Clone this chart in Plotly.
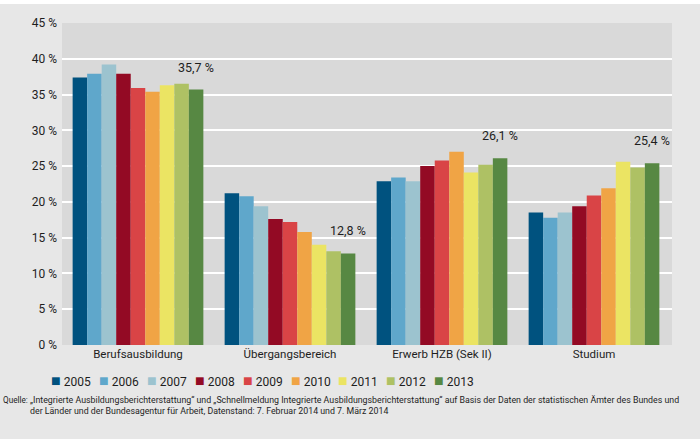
import plotly.graph_objects as go

categories = ["Berufsausbildung", "Übergangsbereich", "Erwerb HZB (Sek II)", "Studium"]
years = ["2005", "2006", "2007", "2008", "2009", "2010", "2011", "2012", "2013"]
colors = ["#00527f", "#5fa7cb", "#9cc3cf", "#930a24", "#d94446", "#f0a445", "#ebe463", "#aec164", "#578843"]

v2005 = [37.4, 21.2, 22.9, 18.5]
v2006 = [37.9, 20.8, 23.4, 17.8]
v2007 = [39.2, 19.4, 22.9, 18.5]
v2008 = [37.9, 17.6, 25.0, 19.4]
v2009 = [35.9, 17.2, 25.8, 20.9]
v2010 = [35.4, 15.8, 27.0, 21.9]
v2011 = [36.3, 14.0, 24.1, 25.6]
v2012 = [36.5, 13.1, 25.2, 24.8]
v2013 = [35.7, 12.8, 26.1, 25.4]
series = [v2005, v2006, v2007, v2008, v2009, v2010, v2011, v2012, v2013]

label_texts = ["35,7 %", "12,8 %", "26,1 %", "25,4 %"]
ytick_vals = [0, 5, 10, 15, 20, 25, 30, 35, 40, 45]
ytick_text = ["0 %", "5 %", "10 %", "15 %", "20 %", "25 %", "30 %", "35 %", "40 %", "45 %"]

source_label = "Quelle:"
source_text = ("„Integrierte Ausbildungsberichterstattung“ und „Schnellmeldung Integrierte "
               "Ausbildungsberichterstattung“ auf Basis der Daten der statistischen Ämter des Bundes und<br>"
               "der Länder und der Bundesagentur für Arbeit, Datenstand: 7. Februar 2014 und 7. März 2014")

FONT = "Roboto, Liberation Sans, sans-serif"
TXT = "#1e1e1e"

PLOT_L, PLOT_R, PLOT_T, PLOT_B = 62, 672, 23, 345
PW, PH = PLOT_R - PLOT_L, PLOT_B - PLOT_T


def px_x(p):
    return (p - PLOT_L) / PW


def px_y(p):
    return (PLOT_B - p) / PH


fig = go.Figure()
for y, vals, c in zip(years, series, colors):
    fig.add_trace(go.Bar(x=categories, y=vals, name=y, marker=dict(color=c, line=dict(width=0)),
                         showlegend=False))

for cat, val, txt in zip(categories, v2013, label_texts):
    fig.add_annotation(x=cat, y=val, text=txt, xref="x", yref="y", showarrow=False,
                       xshift=58, yshift=13, yanchor="bottom",
                       font=dict(size=12.5, color=TXT, family=FONT))

# legend built as text entries (square glyph + year)
for i, (yr, c) in enumerate(zip(years, colors)):
    fig.add_annotation(x=px_x(49 + i * 47.9), y=px_y(380), xref="paper", yref="paper",
                       xanchor="left", yanchor="middle", showarrow=False,
                       text=f"<span style='color:{c};font-size:16px'>■</span> {yr}",
                       font=dict(size=12, color=TXT, family=FONT))

fig.add_annotation(x=px_x(1), y=px_y(393), xref="paper", yref="paper", xanchor="left", yanchor="top",
                   text=source_label, showarrow=False, align="left",
                   font=dict(size=8.2, color=TXT, family=FONT))
fig.add_annotation(x=px_x(28), y=px_y(393), xref="paper", yref="paper", xanchor="left", yanchor="top",
                   text=source_text, showarrow=False, align="left",
                   font=dict(size=8.8, color=TXT, family=FONT))

# white strip at top of the page
fig.add_shape(type="rect", xref="paper", yref="paper", x0=px_x(-10), x1=px_x(710),
              y0=px_y(4), y1=px_y(-10), fillcolor="white", line=dict(width=0), layer="above")

fig.update_layout(
    template="none",
    width=700, height=439,
    margin=dict(l=PLOT_L, r=700 - PLOT_R, t=PLOT_T, b=439 - PLOT_B, autoexpand=False),
    paper_bgcolor="#e7e7e7",
    plot_bgcolor="#d9d9d9",
    barmode="group",
    bargap=0.14,
    bargroupgap=0,
    font=dict(family=FONT, size=12, color=TXT),
    showlegend=False,
)
fig.update_yaxes(range=[0, 45], tickvals=ytick_vals, ticktext=ytick_text,
                 showgrid=True, gridcolor="white", gridwidth=1.5, zeroline=False,
                 ticks="", ticklabelstandoff=4, showline=False, automargin=False,
                 tickfont=dict(size=12, family=FONT, color=TXT))
fig.update_xaxes(showgrid=False, ticks="", showline=False, automargin=False, ticklabelstandoff=0,
                 tickfont=dict(size=11.5, family=FONT, color=TXT))

fig.write_html("out.html", config={"displayModeBar": False},
               post_script="document.body.style.margin='0';document.body.style.overflow='hidden';")
